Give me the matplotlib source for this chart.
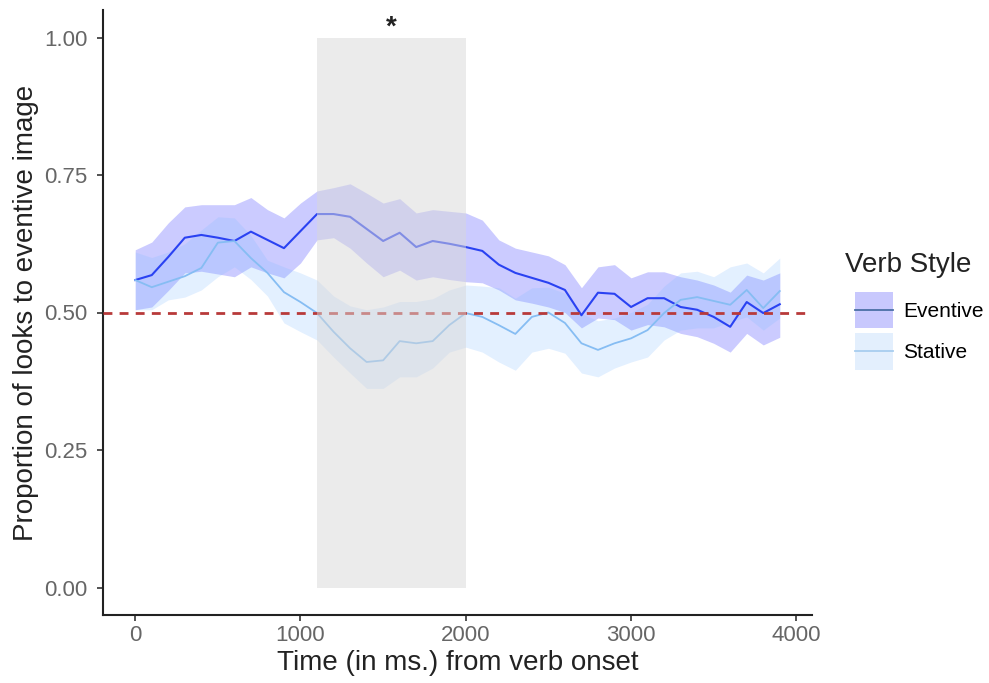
import matplotlib
matplotlib.use("Agg")
import matplotlib.pyplot as plt
from matplotlib.patches import Patch, Rectangle
from matplotlib.lines import Line2D
from matplotlib.legend_handler import HandlerBase

plt.rcParams['font.family'] = ['Liberation Sans', 'DejaVu Sans']

time_ms = list(range(0, 4000, 100))

eventive_mean = [0.559, 0.568, 0.601, 0.636, 0.641, 0.636, 0.630, 0.647, 0.632, 0.617,
                 0.648, 0.679, 0.679, 0.674, 0.652, 0.630, 0.645, 0.619, 0.630, 0.625,
                 0.619, 0.612, 0.587, 0.572, 0.563, 0.554, 0.541, 0.495, 0.536, 0.534,
                 0.510, 0.526, 0.526, 0.510, 0.505, 0.492, 0.474, 0.519, 0.499, 0.515]
eventive_upper = [0.614, 0.628, 0.663, 0.692, 0.696, 0.696, 0.696, 0.709, 0.687, 0.672,
                  0.699, 0.721, 0.727, 0.734, 0.717, 0.699, 0.707, 0.681, 0.687, 0.684,
                  0.681, 0.668, 0.632, 0.617, 0.610, 0.603, 0.587, 0.545, 0.583, 0.587,
                  0.563, 0.574, 0.574, 0.565, 0.559, 0.550, 0.537, 0.568, 0.559, 0.572]
eventive_lower = [0.505, 0.510, 0.540, 0.572, 0.575, 0.570, 0.565, 0.583, 0.572, 0.563,
                  0.590, 0.632, 0.636, 0.617, 0.590, 0.565, 0.577, 0.559, 0.565, 0.560,
                  0.556, 0.554, 0.541, 0.523, 0.517, 0.510, 0.500, 0.472, 0.490, 0.487,
                  0.468, 0.478, 0.474, 0.462, 0.456, 0.444, 0.428, 0.462, 0.441, 0.455]

stative_mean = [0.559, 0.546, 0.556, 0.566, 0.581, 0.627, 0.630, 0.599, 0.572, 0.537,
                0.519, 0.499, 0.465, 0.435, 0.410, 0.413, 0.448, 0.444, 0.448, 0.477,
                0.499, 0.492, 0.477, 0.461, 0.492, 0.500, 0.481, 0.444, 0.432, 0.444,
                0.453, 0.468, 0.499, 0.523, 0.528, 0.521, 0.514, 0.541, 0.508, 0.539]
stative_upper = [0.610, 0.600, 0.610, 0.625, 0.650, 0.674, 0.672, 0.640, 0.595, 0.583,
                 0.572, 0.559, 0.530, 0.512, 0.505, 0.510, 0.520, 0.520, 0.525, 0.541,
                 0.550, 0.548, 0.545, 0.526, 0.545, 0.546, 0.535, 0.498, 0.485, 0.490,
                 0.500, 0.515, 0.548, 0.572, 0.575, 0.565, 0.583, 0.590, 0.572, 0.599]
stative_lower = [0.505, 0.505, 0.523, 0.528, 0.541, 0.565, 0.583, 0.560, 0.530, 0.481,
                 0.465, 0.450, 0.419, 0.390, 0.362, 0.362, 0.383, 0.383, 0.399, 0.428,
                 0.437, 0.428, 0.410, 0.395, 0.428, 0.435, 0.426, 0.390, 0.383, 0.399,
                 0.410, 0.419, 0.450, 0.468, 0.472, 0.472, 0.483, 0.492, 0.468, 0.490]

window_start, window_end = 1100, 2000
x_ticks = [0, 1000, 2000, 3000, 4000]
y_ticks = [0.00, 0.25, 0.50, 0.75, 1.00]

ev_line = '#2a42f2'
ev_fill = '#3030ff'
st_line = '#86bdf3'
st_fill = '#80bcff'

fig = plt.figure(figsize=(9.89, 6.83), dpi=100)
ax = fig.add_axes([103/989, 1-615/683, (812-103)/989, (615-10)/683])

ax.fill_between(time_ms, eventive_lower, eventive_upper, color=ev_fill, alpha=0.25, lw=0, zorder=1)
ax.fill_between(time_ms, stative_lower, stative_upper, color=st_fill, alpha=0.22, lw=0, zorder=1.1)
ax.plot(time_ms, eventive_mean, color=ev_line, lw=1.5, zorder=3)
ax.plot(time_ms, stative_mean, color=st_line, lw=1.3, zorder=3)
ax.axhline(0.5, color='#b83a3a', lw=2, ls=(0, (3.2, 2.6)), zorder=4)
ax.fill_between([window_start, window_end], 0, 1, color='#d8d8d8', alpha=0.5, lw=0, zorder=5)
ax.text((window_start + window_end) / 2, 0.994, '*', ha='center', va='bottom', fontsize=20,
        fontweight='bold', color='#222222')

ax.set_xlim(-195, 4095)
ax.set_ylim(-0.05, 1.05)
ax.set_xticks(x_ticks)
ax.set_xticklabels([str(v) for v in x_ticks])
ax.set_yticks(y_ticks)
ax.set_yticklabels([f'{v:.2f}' for v in y_ticks])
for s in ['top', 'right']:
    ax.spines[s].set_visible(False)
for s in ['left', 'bottom']:
    ax.spines[s].set_linewidth(1.5)
    ax.spines[s].set_color('#222222')
ax.tick_params(axis='both', colors='#333333', labelcolor='#666666', labelsize=16, length=4, width=1.2)
ax.tick_params(axis='y', pad=7)
ax.tick_params(axis='x', pad=3)
ax.set_xlabel('Time (in ms.) from verb onset', fontsize=20, color='#222222', labelpad=3)
ax.set_ylabel('Proportion of looks to eventive image', fontsize=20, color='#222222', labelpad=4)


class BoxLine(HandlerBase):
    def __init__(self, fill, line):
        super().__init__()
        self.fill = fill
        self.line = line

    def create_artists(self, legend, orig_handle, xdescent, ydescent, width, height, fontsize, trans):
        r = Rectangle((-xdescent, -ydescent), width, height, facecolor=self.fill, edgecolor='none', transform=trans)
        l = Line2D([-xdescent, -xdescent + width], [height / 2 - ydescent] * 2, color=self.line, lw=1.3, transform=trans)
        return [r, l]


fig.text(845/989, 1-272/683, 'Verb Style', fontsize=20, color='#222222', ha='left', va='baseline')

h1 = Patch(label='Eventive')
h2 = Patch(label='Stative')
leg = fig.legend(handles=[h1, h2], labels=['Eventive', 'Stative'],
                 handler_map={h1: BoxLine('#c8c8fd', '#4a6fa5'), h2: BoxLine('#e3effd', '#a8cdef')},
                 loc='upper left', bbox_to_anchor=(855/989, 1-292/683),
                 frameon=False, fontsize=15, handlelength=1.83, handleheight=2.3,
                 handletextpad=0.48, labelspacing=0.24, borderaxespad=0, borderpad=0)

fig.savefig('out.png', dpi=100)
